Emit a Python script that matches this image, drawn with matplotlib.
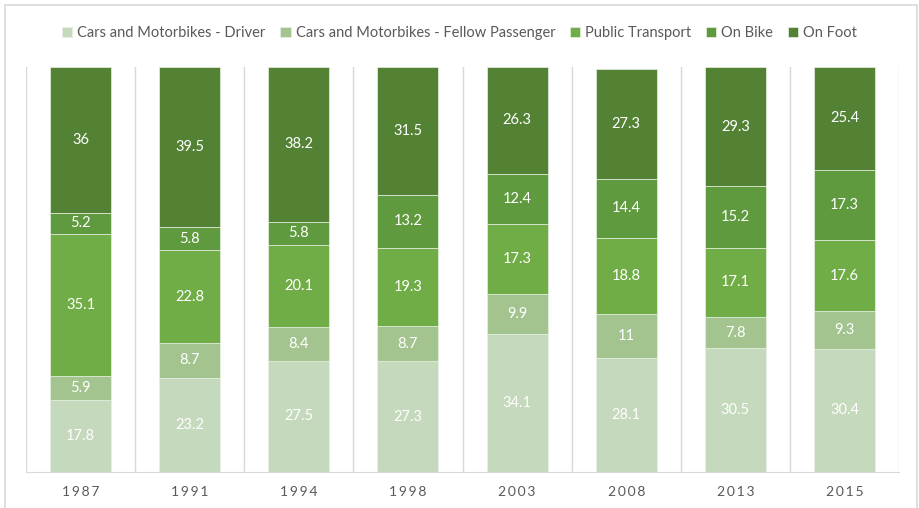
import matplotlib.pyplot as plt
from matplotlib.patches import Rectangle
import numpy as np

plt.rcParams['font.family'] = ['Lato', 'DejaVu Sans']

years = ['1987', '1991', '1994', '1998', '2003', '2008', '2013', '2015']
series = ['Cars and Motorbikes - Driver', 'Cars and Motorbikes - Fellow Passenger',
          'Public Transport', 'On Bike', 'On Foot']
driver = [17.8, 23.2, 27.5, 27.3, 34.1, 28.1, 30.5, 30.4]
fellow = [5.9, 8.7, 8.4, 8.7, 9.9, 11, 7.8, 9.3]
public = [35.1, 22.8, 20.1, 19.3, 17.3, 18.8, 17.1, 17.6]
bike = [5.2, 5.8, 5.8, 13.2, 12.4, 14.4, 15.2, 17.3]
foot = [36, 39.5, 38.2, 31.5, 26.3, 27.3, 29.3, 25.4]
colors = ['#c5d9bc', '#a3c48f', '#70ad47', '#5f9b3e', '#548235']

fig = plt.figure(figsize=(9.19, 5.08), dpi=100)
# outer chart border
fig.patches.append(Rectangle((5 / 919, -0.05), 912 / 919, 1 - 5 / 508 + 0.05,
                             transform=fig.transFigure, fill=False,
                             edgecolor='#d9d9d9', lw=1.2))

ax = fig.add_axes([26 / 919, 36 / 508, 873 / 919, 405 / 508])
x = np.arange(len(years))
bottom = np.zeros(len(years))
for name, vals, c in zip(series, [driver, fellow, public, bike, foot], colors):
    vals = np.array(vals)
    bars = ax.bar(x, vals, 0.56, bottom=bottom, color=c, label=name,
                  edgecolor='#e8f0e4', linewidth=0.5, zorder=2)
    labels = [f'{v:g}' for v in vals]
    ax.bar_label(bars, labels=labels, label_type='center', color='white', fontsize=10.5)
    bottom += vals

ax.set_xlim(-0.5, len(years) - 0.5)
ax.set_ylim(0, 100)
for xv in np.arange(-0.5, len(years), 1.0):
    ax.axvline(xv, color='#d9d9d9', lw=1, zorder=1)
for s in ['top', 'right', 'left']:
    ax.spines[s].set_visible(False)
ax.spines['bottom'].set_color('#d9d9d9')
ax.set_yticks([])
ax.set_xticks(x)
ax.set_xticklabels(['\u2009'.join(y) for y in years], color='#595959', fontsize=10)
ax.tick_params(axis='x', length=0, pad=10)

fig.legend(loc='center', bbox_to_anchor=(0.5, 1 - 33 / 508), ncol=5, frameon=False,
           fontsize=10.5, handlelength=0.7, handleheight=0.7, handletextpad=0.35,
           columnspacing=1.0, labelcolor='#595959')

fig.savefig('out.png', dpi=100)
